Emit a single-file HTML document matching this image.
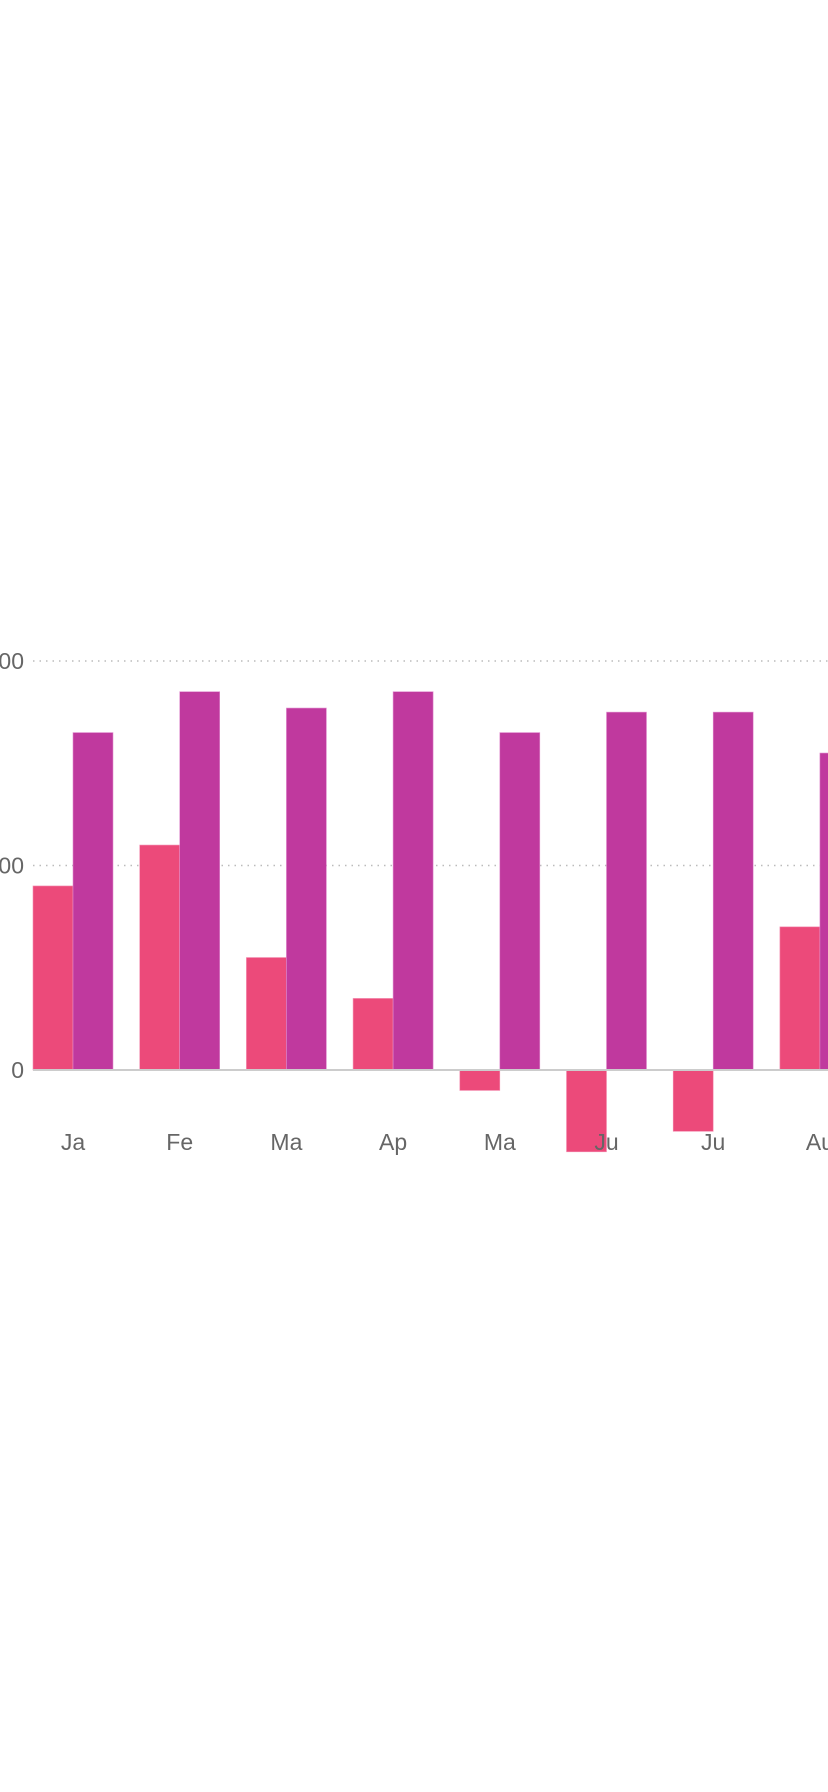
<!DOCTYPE html>
<html><head><meta charset="utf-8"><style>
html,body{margin:0;padding:0;background:#fff;width:828px;height:1792px;overflow:hidden}
svg{display:block}
text{font-family:"Liberation Sans",sans-serif;fill:#666}
</style></head><body>
<svg id="chart" width="828" height="1792" viewBox="0 0 828 1792"></svg>
<script>
const categories=["Ja","Fe","Ma","Ap","Ma","Ju","Ju","Au"];
const seriesA=[90,110,55,35,-10,-40,-30,70];
const seriesB=[165,185,177,185,165,175,175,155];
const tickValues=[0,100,200];
const tickLabels=["0","100","200"];

const svg=document.getElementById('chart');
const NS='http://www.w3.org/2000/svg';
const zeroY=1070, unit=204.5/100;
const left=33, step=106.7, bw=40;
function y(v){return zeroY-v*unit;}
function bx(i){return left+i*step;}
function mk(tag,attrs){const e=document.createElementNS(NS,tag);for(const k in attrs)e.setAttribute(k,attrs[k]);svg.appendChild(e);return e;}

tickValues.forEach((t,i)=>{
  if(t!==0){
    const g=mk('line',{x1:33,x2:828,y1:y(t),y2:y(t),stroke:'#bbb','stroke-width':1.5,'stroke-dasharray':'1.5 5'});
    
    
  }
  const tx=mk('text',{x:24,y:y(t)+8,'text-anchor':'end','font-size':23});
  tx.textContent=tickLabels[i];
  
  
});

categories.forEach((c,i)=>{
  const a=seriesA[i], b=seriesB[i];
  const ra=mk('rect',{x:bx(i),y:Math.min(y(a),zeroY),width:bw,height:Math.abs(y(a)-zeroY),fill:'#ec4a7a',stroke:'#f48fb1','stroke-width':0.6});
  
  
  const rb=mk('rect',{x:bx(i)+bw,y:Math.min(y(b),zeroY),width:bw,height:Math.abs(y(b)-zeroY),fill:'#c0399e',stroke:'#e08fcf','stroke-width':0.6});
  
  
  const t=mk('text',{x:bx(i)+bw,y:1150,'text-anchor':'middle','font-size':23});
  t.textContent=c;
  
  
});
const ax=mk('line',{x1:33,x2:828,y1:zeroY,y2:zeroY,stroke:'#ccc','stroke-width':2});


</script>
</body></html>
